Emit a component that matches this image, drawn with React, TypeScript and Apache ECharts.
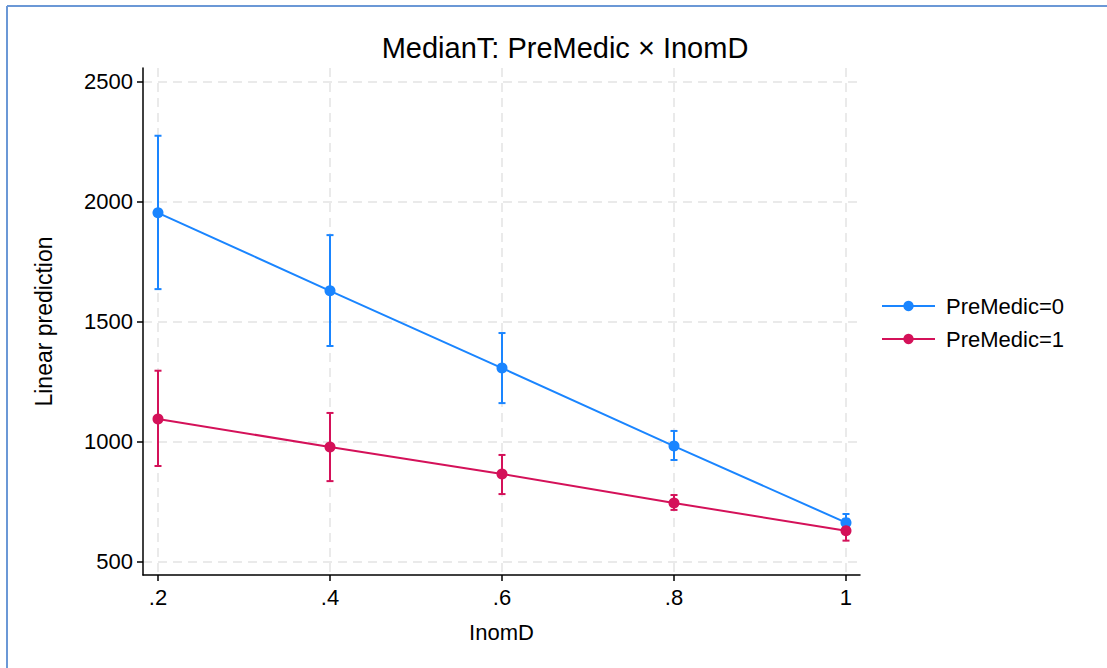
import React, { useEffect, useRef } from "react";
import * as echarts from "echarts";

const xValues = [0.2, 0.4, 0.6, 0.8, 1.0];
const xTicks = [0.2, 0.4, 0.6, 0.8, 1.0];
const yTicks = [500, 1000, 1500, 2000, 2500];

const seriesNames = ["PreMedic=0", "PreMedic=1"];
const premedic0 = [1955, 1630, 1308, 983, 664];
const premedic0Low = [1637, 1400, 1162, 925, 628];
const premedic0High = [2276, 1862, 1454, 1046, 700];
const premedic1 = [1096, 979, 867, 746, 630];
const premedic1Low = [900, 837, 783, 717, 589];
const premedic1High = [1297, 1121, 946, 779, 672];

const colors = ["#1a85ff", "#d41159"];
const FONT = "'Liberation Sans', Arial, Helvetica, sans-serif";

function errorSeries(name: string, low: number[], high: number[], color: string) {
  return {
    type: "custom",
    name: name + " CI",
    silent: true,
    z: 2,
    data: xValues.map((x, i) => [x, low[i], high[i]]),
    renderItem: (params: any, api: any) => {
      const x = api.value(0);
      const lo = api.coord([x, api.value(1)]);
      const hi = api.coord([x, api.value(2)]);
      const w = 3.5;
      const style = { stroke: color, lineWidth: 2, fill: "none" };
      return {
        type: "group",
        children: [
          { type: "line", shape: { x1: lo[0], y1: lo[1], x2: hi[0], y2: hi[1] }, style },
          { type: "line", shape: { x1: lo[0] - w, y1: lo[1], x2: lo[0] + w, y2: lo[1] }, style },
          { type: "line", shape: { x1: hi[0] - w, y1: hi[1], x2: hi[0] + w, y2: hi[1] }, style },
        ],
      };
    },
  };
}

function lineSeries(name: string, vals: number[], color: string) {
  return {
    type: "line",
    name,
    z: 3,
    data: xValues.map((x, i) => [x, vals[i]]),
    symbol: "circle",
    symbolSize: 11,
    itemStyle: { color },
    lineStyle: { color, width: 2 },
  };
}

export default function App() {
  const ref = useRef<HTMLDivElement>(null);
  useEffect(() => {
    if (!ref.current) return;
    const chart = echarts.init(ref.current, null, { renderer: "svg" });
    const gridLine = { show: true, lineStyle: { color: "#e3e3e3", width: 1.5, type: [9, 6] } };
    chart.setOption({
      animation: false,
      backgroundColor: "#ffffff",
      title: {
        text: "MedianT: PreMedic × InomD",
        left: 560,
        top: 28,
        textAlign: "center",
        textStyle: { fontFamily: FONT, fontSize: 29, fontWeight: "normal", color: "#000" },
      },
      legend: {
        orient: "vertical",
        left: 876,
        top: 290,
        itemWidth: 53,
        itemHeight: 13,
        itemGap: 11,
        data: seriesNames,
        textStyle: { fontFamily: FONT, fontSize: 22, color: "#000", padding: [0, 0, 0, 6] },
      },
      grid: { left: 143, top: 68, width: 717, height: 507, containLabel: false },
      xAxis: {
        type: "value",
        min: 0.18256,
        max: 1.01628,
        name: "InomD",
        nameLocation: "middle",
        nameGap: 46,
        nameTextStyle: { fontFamily: FONT, fontSize: 22, color: "#000" },
        axisLine: { show: true, onZero: false, lineStyle: { color: "#000", width: 1.5 } },
        axisTick: { show: true, length: 6, customValues: xTicks, lineStyle: { color: "#000", width: 1.5 } },
        axisLabel: {
          customValues: xTicks,
          margin: 11,
          fontFamily: FONT,
          fontSize: 22,
          color: "#000",
          formatter: (v: number) => (v >= 1 ? "1" : String(v).replace(/^0\./, ".")),
        },
        splitLine: gridLine,
      },
      yAxis: {
        type: "value",
        min: 445.8,
        max: 2558.3,
        name: "Linear prediction",
        nameLocation: "middle",
        nameGap: 88,
        nameRotate: 90,
        nameTextStyle: { fontFamily: FONT, fontSize: 23, color: "#000" },
        axisLine: { show: true, onZero: false, lineStyle: { color: "#000", width: 1.5 } },
        axisTick: { show: true, length: 6, customValues: yTicks, lineStyle: { color: "#000", width: 1.5 } },
        axisLabel: {
          customValues: yTicks,
          margin: 10,
          fontFamily: FONT,
          fontSize: 22,
          color: "#000",
          formatter: (v: number) => String(v),
        },
        splitLine: gridLine,
      },
      graphic: [
        { type: "line", shape: { x1: 7, y1: 6, x2: 1107, y2: 6 }, style: { stroke: "#6b98d6", lineWidth: 2 } },
        { type: "line", shape: { x1: 7, y1: 6, x2: 7, y2: 668 }, style: { stroke: "#6b98d6", lineWidth: 2 } },
      ],
      series: [
        errorSeries(seriesNames[0], premedic0Low, premedic0High, colors[0]),
        errorSeries(seriesNames[1], premedic1Low, premedic1High, colors[1]),
        lineSeries(seriesNames[0], premedic0, colors[0]),
        lineSeries(seriesNames[1], premedic1, colors[1]),
      ],
    });
    return () => chart.dispose();
  }, []);
  return <div ref={ref} style={{ position: "fixed", left: 0, top: 0, width: 1107, height: 668 }} />;
}
